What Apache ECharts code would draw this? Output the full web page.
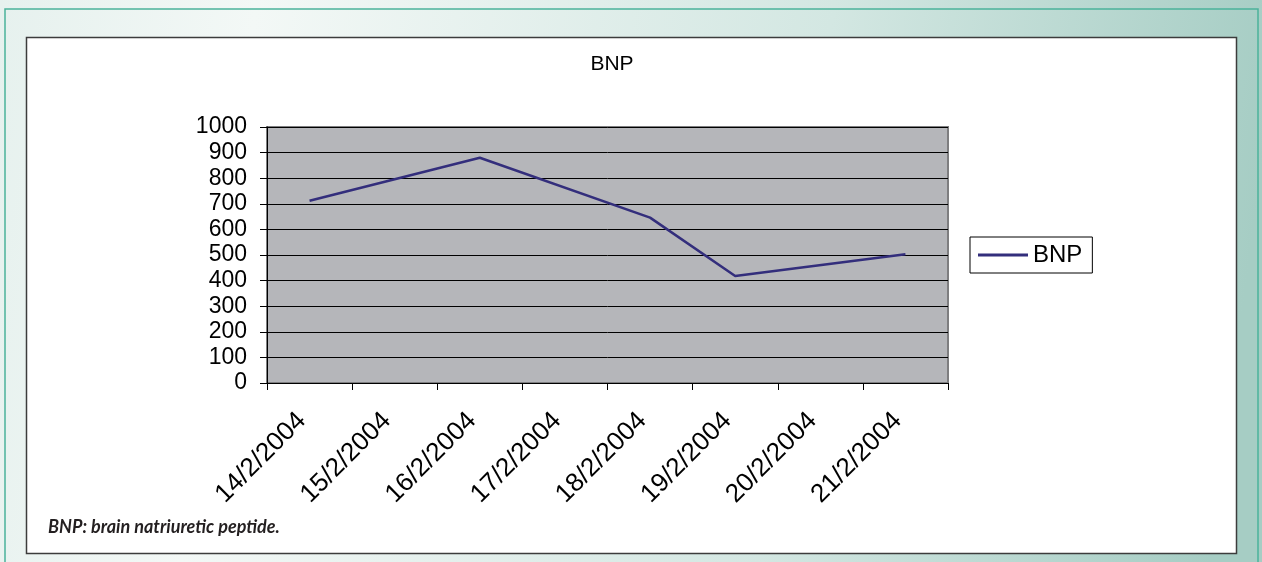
<!DOCTYPE html>
<html>
<head>
<meta charset="utf-8">
<script src="https://cdn.jsdelivr.net/npm/echarts@6/dist/echarts.min.js"></script>
<style>
  html, body { margin: 0; padding: 0; background: #fff; }
  #main { width: 1262px; height: 562px; }
</style>
</head>
<body>
<div id="main"></div>
<script>
const dates = ['14/2/2004', '15/2/2004', '16/2/2004', '17/2/2004', '18/2/2004', '19/2/2004', '20/2/2004', '21/2/2004'];
const bnp = [712, null, 880, null, 646, 418, null, 503];
const yTicks = { min: 0, max: 1000, interval: 100 };

const chartDom = document.getElementById('main');
const myChart = echarts.init(chartDom);

const option = {
  animation: false,
  backgroundColor: {
    type: 'linear', x: 0, y: 0, x2: 1, y2: 0.3,
    colorStops: [
      { offset: 0, color: '#e6f1ee' },
      { offset: 0.2, color: '#f3f8f6' },
      { offset: 0.65, color: '#d3e7e2' },
      { offset: 1, color: '#a6cdc4' }
    ]
  },
  graphic: {
    elements: [
      {
        type: 'rect', z: -10, silent: true,
        shape: { x: 5, y: 9, width: 1253, height: 570 },
        style: { fill: 'transparent', stroke: '#4bb29b', lineWidth: 1.5 }
      },
      {
        type: 'rect', z: -9, silent: true,
        shape: { x: 26.5, y: 37.5, width: 1210, height: 516 },
        style: { fill: '#ffffff', stroke: '#3c3c3c', lineWidth: 1.5 }
      },
      {
        type: 'text', left: 48, top: 518,
        style: {
          text: 'BNP: brain natriuretic peptide.',
          font: 'italic bold 18px Lato, "Open Sans", sans-serif',
          fill: '#231f20'
        }
      }
    ]
  },
  title: {
    text: 'BNP',
    left: 607, top: 49, textAlign: 'center',
    textStyle: { fontFamily: 'Liberation Sans, Arial, sans-serif', fontSize: 21, fontWeight: 'normal', color: '#000' }
  },
  legend: {
    left: 970, top: 237,
    orient: 'vertical',
    padding: [5, 10, 5, 8],
    icon: 'rect',
    itemWidth: 50, itemHeight: 3, itemGap: 0,
    borderColor: '#000', borderWidth: 1,
    backgroundColor: '#fff',
    textStyle: { fontFamily: 'Liberation Sans, Arial, sans-serif', fontSize: 24, color: '#000', lineHeight: 26 },
    data: ['BNP']
  },
  grid: {
    left: 267, right: 314, top: 127, bottom: 179,
    show: true,
    backgroundColor: '#b5b6ba',
    borderColor: '#7e7e80',
    borderWidth: 2
  },
  xAxis: {
    type: 'category',
    data: dates,
    boundaryGap: true,
    axisLine: { lineStyle: { color: '#000', width: 1 } },
    axisTick: { show: true, length: 7, lineStyle: { color: '#000' } },
    axisLabel: {
      rotate: 45, margin: 26, interval: 0,
      padding: [0, 11, 0, 0],
      fontFamily: '"Liberation Sans", Arial, sans-serif',
      fontSize: 26, color: '#000'
    }
  },
  yAxis: {
    type: 'value',
    min: yTicks.min, max: yTicks.max, interval: yTicks.interval,
    axisLine: { show: true, lineStyle: { color: '#000', width: 1 } },
    axisTick: { show: true, length: 7, lineStyle: { color: '#000' } },
    axisLabel: {
      margin: 20, fontFamily: 'Liberation Sans, Arial, sans-serif', fontSize: 23, color: '#000',
      formatter: v => String(v)
    },
    splitLine: { show: true, lineStyle: { color: '#000', width: 1 } }
  },
  series: [
    {
      name: 'BNP',
      type: 'line',
      data: bnp,
      connectNulls: true,
      symbol: 'none',
      lineStyle: { color: '#332e7c', width: 2.5 },
      itemStyle: { color: '#332e7c' }
    }
  ]
};

myChart.setOption(option);
</script>
</body>
</html>
